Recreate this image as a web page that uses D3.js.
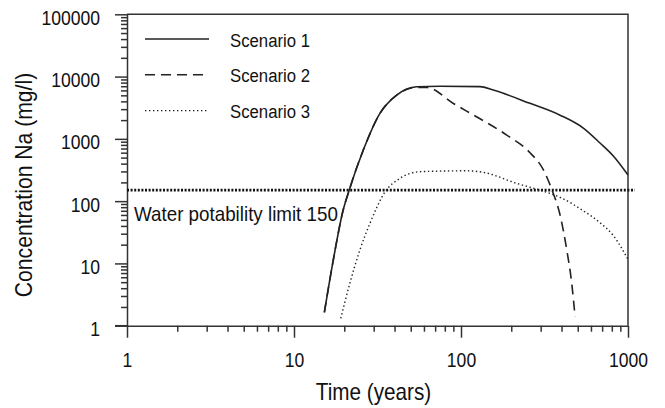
<!DOCTYPE html>
<html>
<head>
<meta charset="utf-8">
<script src="https://cdn.jsdelivr.net/npm/d3@7"></script>
<style>
    body { margin: 0; background: #fff; }
    svg { display: block; font-family: "Liberation Sans", Arial, sans-serif; }
</style>
</head>
<body>
<svg class="chart" width="665" height="408"></svg>
<script>
// values (time in years, concentration in mg/l)
const scenarioNames = ['Scenario 1', 'Scenario 2', 'Scenario 3'];

const time1 = [15.2, 17.1, 19.7, 21.4, 26, 32.7, 41.2, 54.3, 75, 130, 156, 259, 392, 540, 680, 817, 1000];
const conc1 = [1.64, 10.5, 72, 150, 661, 2566, 5050, 6860, 7000, 6900, 6070, 3715, 2400, 1490, 857, 530, 262];

const time2 = [15.2, 17.1, 19.7, 21.4, 26, 32.7, 41.2, 54.3, 62.7, 90, 130, 188, 259, 311, 351, 392, 430, 460, 482];
const conc2 = [1.64, 10.5, 72, 150, 661, 2566, 5050, 6700, 6660, 3700, 2100, 1150, 600, 320, 150, 59.8, 16.4, 4.85, 1.39];

const time3 = [19.05, 21.6, 24.8, 28.5, 35.1, 43.1, 56.8, 108, 136, 215, 341, 392, 540, 680, 817, 1000];
const conc3 = [1.31, 4.8, 16.4, 44, 141, 232, 297, 307, 290, 193, 133, 115, 70, 45, 28, 11.6];

const limitValue = 150;
const limitLabel = 'Water potability limit 150';
const limitSpan = [1, 1100];

const xTicks = [1, 10, 100, 1000];
const yTicks = [1, 10, 100, 1000, 10000, 100000];

const svg = d3.select('.chart');
const ink = '#222';
const squish = 0.9;   // the original lettering is a bit narrow

const xScale = d3.scaleLog()
    .domain([1, 1000])
    .range([127, 628]);

const yScale = d3.scaleLog()
    .domain([1, 100000])
    .range([325.7, 14.3]);

// minor ticks 2..9 in every decade
const minors = scale => {
    const [a, b] = scale.domain();
    const out = [];
    for (let d = a; d < b; d *= 10) {
        for (let k = 2; k <= 9; k++) out.push(d * k);
    }
    return out;
};

// frame: top and right
svg.append('path')
    .attr('d', `M${xScale(1)},${yScale(100000)}H${xScale(1000)}V${yScale(1)}`)
    .attr('fill', 'none')
    .attr('stroke', '#333')
    .attr('stroke-width', 1.5);

// x axis
const gx = svg.append('g')
    .attr('transform', `translate(0, ${yScale(1)})`);
gx.append('g')
    .call(d3.axisBottom(xScale).tickValues(minors(xScale)).tickSize(6).tickFormat(''))
    .call(g => g.select('.domain').remove());
gx.append('g')
    .call(d3.axisBottom(xScale).tickValues(xTicks).tickSizeInner(12).tickSizeOuter(0).tickFormat(d3.format('d')));
gx.selectAll('line, path').attr('stroke', '#333').attr('stroke-width', 1.5);
gx.selectAll('text')
    .attr('y', 0).attr('dy', 0)
    .attr('fill', '#111')
    .style('font-size', '19.5px')
    .attr('transform', `translate(0, 41.3) scale(${squish}, 1)`);

// y axis
const gy = svg.append('g')
    .attr('transform', `translate(${xScale(1)}, 0)`);
gy.append('g')
    .call(d3.axisLeft(yScale).tickValues(minors(yScale)).tickSize(6).tickFormat(''))
    .call(g => g.select('.domain').remove());
gy.append('g')
    .call(d3.axisLeft(yScale).tickValues(yTicks).tickSizeInner(12).tickSizeOuter(0).tickFormat(d3.format('d')));
gy.selectAll('line, path').attr('stroke', '#333').attr('stroke-width', 1.5);
gy.selectAll('text')
    .attr('x', 0).attr('dy', 0)
    .attr('fill', '#111')
    .style('font-size', '19.5px')
    .attr('transform', `translate(-27, 10) scale(${squish}, 1)`);

// extend the x axis line a bit left, the y axis line a bit down (as in the figure)
svg.append('line')
    .attr('x1', xScale(1) - 12).attr('x2', xScale(1))
    .attr('y1', yScale(1)).attr('y2', yScale(1))
    .attr('stroke', '#333').attr('stroke-width', 1.5);

// axis titles
svg.append('text')
    .attr('transform', `translate(373.5, 400) scale(${squish}, 1)`)
    .attr('text-anchor', 'middle')
    .attr('fill', '#111')
    .style('font-size', '23px')
    .text('Time (years)');

svg.append('text')
    .attr('transform', `translate(31.5, 185) rotate(-90) scale(0.92, 1)`)
    .attr('text-anchor', 'middle')
    .attr('fill', '#111')
    .style('font-size', '23px')
    .text('Concentration Na (mg/l)');

// potability limit
svg.append('line')
    .attr('x1', xScale(limitSpan[0])).attr('x2', xScale(limitSpan[1]))
    .attr('y1', yScale(limitValue)).attr('y2', yScale(limitValue))
    .attr('stroke', '#111')
    .attr('stroke-width', 2.6)
    .attr('stroke-dasharray', '2,1.6');

svg.append('text')
    .attr('transform', `translate(134, 221.3) scale(0.94, 1)`)
    .attr('fill', '#111')
    .style('font-size', '20px')
    .text(limitLabel);

// scenario curves
const series = [
    { name: scenarioNames[0], pts: d3.zip(time1, conc1), dash: null, width: 1.6 },
    { name: scenarioNames[1], pts: d3.zip(time2, conc2), dash: '10,6', width: 1.6 },
    { name: scenarioNames[2], pts: d3.zip(time3, conc3), dash: '1.4,2.6', width: 1.4 }
];

const line = d3.line()
    .x(d => xScale(d[0]))
    .y(d => yScale(d[1]))
    .curve(d3.curveMonotoneX);

svg.append('g')
    .selectAll('path')
    .data(series)
    .join('path')
    .attr('d', d => line(d.pts))
    .attr('fill', 'none')
    .attr('stroke', ink)
    .attr('stroke-width', d => d.width)
    .attr('stroke-dasharray', d => d.dash);

// legend
const legend = svg.append('g')
    .selectAll('g')
    .data(series)
    .join('g')
    .attr('transform', (d, i) => `translate(145, ${39 + i * 35.8})`);

legend.append('line')
    .attr('x1', 0).attr('x2', 64)
    .attr('stroke', ink)
    .attr('stroke-width', d => d.width)
    .attr('stroke-dasharray', d => d.dash);

legend.append('text')
    .attr('transform', `translate(85, 7.5) scale(${squish}, 1)`)
    .attr('fill', '#111')
    .style('font-size', '18.6px')
    .text(d => d.name);
</script>
</body>
</html>
